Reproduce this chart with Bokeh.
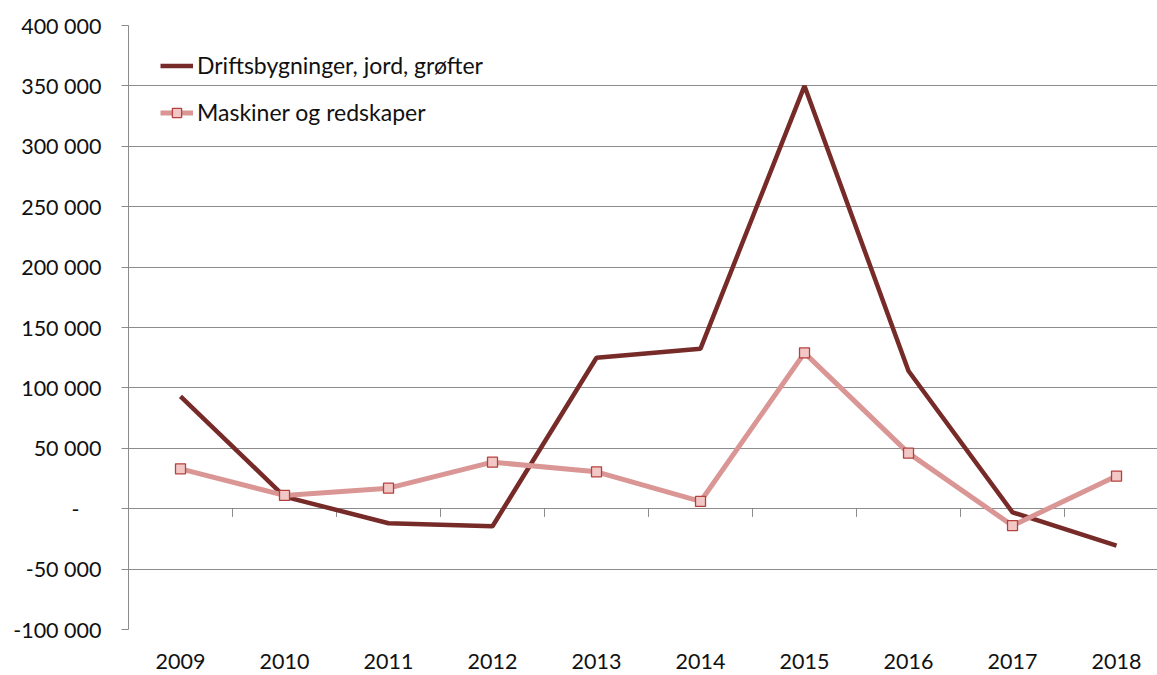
from bokeh.plotting import figure
from bokeh.models import Range1d, FixedTicker, Legend, LegendItem
from bokeh.embed import file_html
from bokeh.resources import INLINE

years = ["2009", "2010", "2011", "2012", "2013", "2014", "2015", "2016", "2017", "2018"]
drift = [93000, 10000, -12000, -14500, 125000, 132500, 350000, 114000, -3000, -30500]
maskiner = [33000, 11000, 17000, 38500, 30500, 6000, 129000, 46000, -14000, 27000]
y_ticks = [-100000, -50000, 0, 50000, 100000, 150000, 200000, 250000, 300000, 350000, 400000]
y_labels = ["-100 000", "-50 000", "-\u00a0\u00a0\u00a0\u00a0", "50 000", "100 000", "150 000",
            "200 000", "250 000", "300 000", "350 000", "400 000"]
series_names = ["Driftsbygninger, jord, grøfter", "Maskiner og redskaper"]

FONT = "Lato"
GRID = "#8c8c8c"
xs = list(range(1, len(years) + 1))

p = figure(width=1157, height=675, output_backend="svg", toolbar_location=None,
           x_range=Range1d(0.5, 10.394), y_range=Range1d(-100000, 400000),
           min_border_left=128, min_border_right=0, min_border_top=25, min_border_bottom=46)
p.outline_line_color = None
p.background_fill_color = "white"

# y axis
p.yaxis.ticker = FixedTicker(ticks=y_ticks)
p.yaxis.major_label_overrides = {t: l for t, l in zip(y_ticks, y_labels)}
p.yaxis.axis_line_color = GRID
p.yaxis.major_tick_line_color = GRID
p.yaxis.major_tick_out = 7
p.yaxis.major_tick_in = 0
p.yaxis.minor_tick_line_color = None
p.yaxis.major_label_standoff = 20
p.yaxis.major_label_text_font = FONT
p.yaxis.major_label_text_font_size = "21.5px"
p.yaxis.major_label_text_color = "#111111"
p.ygrid.ticker = FixedTicker(ticks=y_ticks)
p.ygrid.grid_line_color = GRID
p.ygrid.grid_line_width = 1

# x axis (labels only at bottom)
p.xaxis.ticker = FixedTicker(ticks=xs)
p.xaxis.major_label_overrides = {x: y for x, y in zip(xs, years)}
p.xaxis.axis_line_color = None
p.xaxis.major_tick_line_color = None
p.xaxis.minor_tick_line_color = None
p.xaxis.major_label_standoff = 18
p.xaxis.major_label_text_font = FONT
p.xaxis.major_label_text_font_size = "21.5px"
p.xaxis.major_label_text_color = "#111111"
p.xgrid.grid_line_color = None

# category boundary tick marks on zero line
bounds = [x + 0.5 for x in xs]
p.segment(x0=bounds, y0=[0] * len(bounds), x1=bounds, y1=[-6800] * len(bounds),
          line_color=GRID, line_width=1)

r1 = p.line(xs, drift, line_color="#772B29", line_width=4.5)
r2 = p.line(xs, maskiner, line_color="#DA9694", line_width=5)
r3 = p.scatter(xs, maskiner, marker="square", size=10, fill_color="#F2C8C6",
               line_color="#B5403D", line_width=1.3)

legend = Legend(items=[LegendItem(label=series_names[0], renderers=[r1]),
                       LegendItem(label=series_names[1], renderers=[r2, r3])],
                location=(32, 503))
legend.margin = 0
legend.padding = 0
legend.spacing = 19
legend.glyph_width = 33
legend.glyph_height = 23
legend.label_height = 23
legend.label_standoff = 4
legend.label_text_font = FONT
legend.label_text_font_size = "23px"
legend.label_text_color = "#111111"
legend.border_line_color = None
legend.background_fill_alpha = 0
p.add_layout(legend)

open("out.html", "w").write(file_html(p, INLINE))
